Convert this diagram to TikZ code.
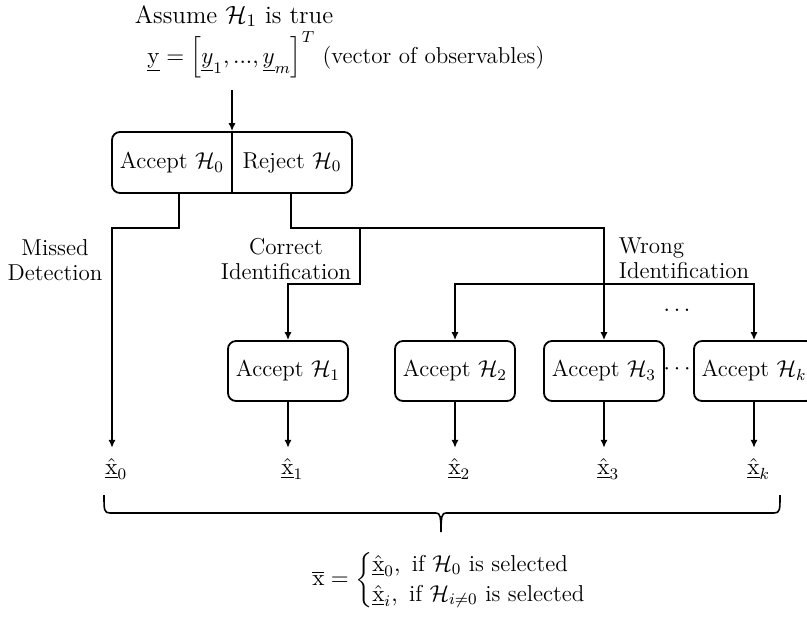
\RequirePackage{fix-cm}
\documentclass[tikz,border=0pt]{standalone}
\usepackage{amsmath,amssymb,mathtools}
\usepackage{tikz}
\usetikzlibrary{positioning,arrows.meta,decorations.pathreplacing}

\newcommand{\xest}[1]{\hat{\underline{\mathrm{x}}}_{\mathrlap{#1}}}
\newcommand{\xsel}[1]{\hat{\underline{\mathrm{x}}}_{#1}}

\begin{document}
\begin{tikzpicture}[x=0.5pt, y=-0.5pt,
  every node/.style={font=\fontsize{11.5}{12.5}\selectfont},
  box/.style={draw, line width=0.9pt, rounded corners=4pt, minimum width=60pt, minimum height=30pt, inner sep=0pt},
  arr/.style={line width=0.9pt, -{Latex[length=4pt,width=3.6pt]}},
  est/.style={inner sep=5pt}]
\useasboundingbox (0,0) rectangle (807,623);

% Hypothesis and observables
\node[font=\fontsize{12.5}{14}\selectfont, inner sep=0pt] (hyp) at (234,16) {Assume $\mathcal{H}_1$ is true};
\node[anchor=west, inner sep=0pt] (obs) at (147,55) {$\underline{\mathrm{y}}=\left[\underline{y}_1,...,\underline{y}_m\right]^T$ (vector of observables)};
\coordinate (in) at (232,90);

% Detection test box
\node[box, minimum width=120pt, minimum height=30.5pt] (dec) at (232,162.5) {};
\node (acc0) at (172,163) {Accept $\mathcal{H}_0$};
\node (rej0) at (292,163) {Reject $\mathcal{H}_0$};
\draw[line width=0.9pt] (dec.north) -- (dec.south);
\draw[arr] (in) -- (dec.north);

% Identification boxes
\node[box] (acc1) at (288,371) {Accept $\mathcal{H}_1$};
\node[box] (acc2) at (455,371) {Accept $\mathcal{H}_2$};
\node[box] (acc3) at (604,371) {Accept $\mathcal{H}_3$};
\node[box] (acck) at (754,371) {Accept $\mathcal{H}_k$};
\node (dotsb) at (679,369) {$\cdots$};
\node (dotsa) at (677,310) {$\ldots$};

% Estimates
\node[est] (x0) at (112,469) {$\xest{0}$};
\node[est] (x1) at (288,469) {$\xest{1}$};
\node[est] (x2) at (455,469) {$\xest{2}$};
\node[est] (x3) at (604,469) {$\xest{3}$};
\node[est] (xk) at (754,469) {$\xest{k}$};

% Branch labels
\node[align=center] (mis) at (55,260) {Missed\\Detection};
\node[align=center] (cor) at (286,259) {Correct\\Identification};
\node[align=left] (wro) at (684,258) {Wrong\\Identification};

% Branches
\coordinate (ao) at (179,193);
\coordinate (ro) at (291,193);
\coordinate (cj) at (360,228);
\coordinate (wj) at (604,284);
\draw[arr] (ao) -- ++(0,35) -| (x0.north);
\draw[arr] (ro) -- ++(0,35) -| (acc3.north);
\draw[arr] (cj) -- ++(0,56) -| (acc1.north);
\draw[arr] (wj) -| (acc2.north);
\draw[arr] (wj) -| (acck.north);

\draw[arr] (acc1.south) -- (x1.north);
\draw[arr] (acc2.south) -- (x2.north);
\draw[arr] (acc3.south) -- (x3.north);
\draw[arr] (acck.south) -- (xk.north);

% Selection
\coordinate (bl) at (104,495);
\coordinate (br) at (780,495);
\coordinate (tip) at (441,532);
\draw[line width=0.8pt] (bl) .. controls (104,510) and (104,513) .. (110,513) -- (436,513)
  .. controls (440,513) and (441,516) .. (tip)
  .. controls (441,516) and (442,513) .. (446,513) -- (774,513)
  .. controls (780,513) and (780,510) .. (br);
\node (sel) at (461,580) {$\overline{\mathrm{x}}=\begin{cases}\xsel{0}, \text{ if } \mathcal{H}_0 \text{ is selected}\\ \xsel{i}, \text{ if } \mathcal{H}_{i\neq0} \text{ is selected}\end{cases}$};
\end{tikzpicture}
\end{document}
